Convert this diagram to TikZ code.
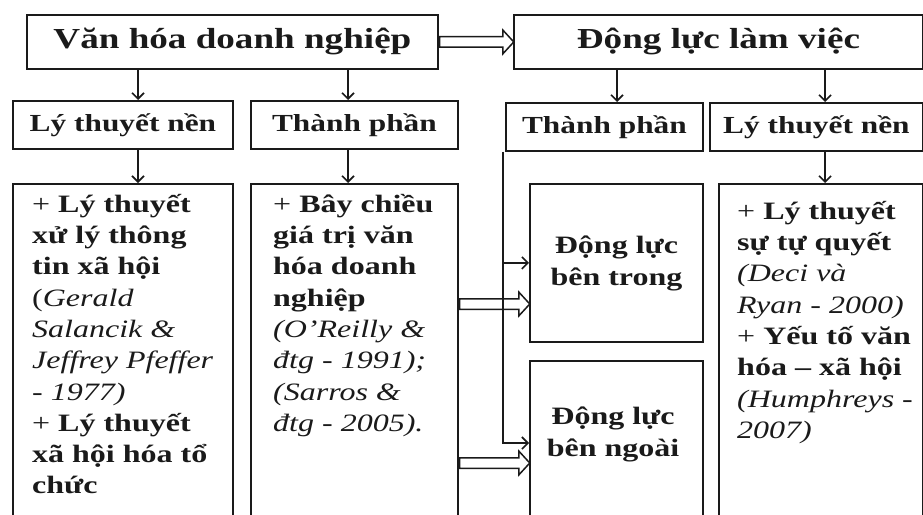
\documentclass[tikz,border=0pt]{standalone}
\usepackage{fontspec}
\setmainfont{Liberation Serif}[FakeStretch=1.28]
\usetikzlibrary{arrows.meta,shapes.arrows,calc}
\definecolor{ink}{HTML}{1A1A1A}
\begin{document}
\begin{tikzpicture}[x=1pt,y=-1pt,
  box/.style={draw=ink, line width=1.9pt, inner sep=0pt, anchor=north west, text=ink},
  ttl/.style={font=\fontsize{29}{34}\selectfont\bfseries},
  hdr/.style={font=\fontsize{24.5}{30}\selectfont\bfseries},
  mid/.style={font=\fontsize{25}{32}\selectfont\bfseries, align=center},
  body/.style={font=\fontsize{25}{31.3}\selectfont, align=left, anchor=north west, inner sep=0pt, text=ink},
  arr/.style={draw=ink, line width=1.6pt, -{Straight Barb[length=6pt,width=12pt]}},
  dbl/.style={single arrow, draw=ink, line width=1.5pt, inner xsep=0pt, inner ysep=4.5pt,
    single arrow head extend=6.5pt, single arrow tip angle=95, anchor=tail}
]
\useasboundingbox (0,0) rectangle (923,514);
\clip (0,0) rectangle (923,514);

% top boxes
\node[box, ttl, minimum width=411pt, minimum height=54pt] (vh) at (26,14) {Văn hóa doanh nghiệp};
\node[box, ttl, minimum width=409pt, minimum height=54pt] (dl) at (513,14) {Động lực làm việc};

% headers
\node[box, hdr, minimum width=220pt, minimum height=48pt] (lt1) at (12,100) {Lý thuyết nền};
\node[box, hdr, minimum width=207pt, minimum height=48pt] (tp1) at (250,100) {Thành phần};
\node[box, hdr, minimum width=197pt, minimum height=48pt] (tp2) at (505,102) {Thành phần};
\node[box, hdr, minimum width=213pt, minimum height=48pt] (lt2) at (709,102) {Lý thuyết nền};

% lower boxes
\node[box, minimum width=220pt, minimum height=350pt] (b1) at (12,183) {};
\node[box, minimum width=207pt, minimum height=350pt] (b2) at (250,183) {};
\node[box, mid, minimum width=173pt, minimum height=158pt] (bt) at (529,183) {Động lực\\bên trong};
\node[box, minimum width=173pt, minimum height=170pt] (bn) at (529,360) {};
\node[box, minimum width=204pt, minimum height=350pt] (b4) at (718,183) {};
\node[mid, text=ink, inner sep=0pt] (bnt) at (613,434) {Động lực\\bên ngoài};

% body texts
\node[body] (t1) at (32,187) {\rule{0pt}{25pt}\textbf{{\mdseries +} Lý thuyết}\\
\textbf{xử lý thông}\\
\textbf{tin xã hội}\\
(\textit{Gerald}\\
\textit{Salancik \&}\\
\textit{Jeffrey Pfeffer}\\
\textit{- 1977)}\\
\textbf{{\mdseries +} Lý thuyết}\\
\textbf{xã hội hóa tổ}\\
\textbf{chức}};

\node[body] (t2) at (273,187) {\rule{0pt}{25pt}\textbf{{\mdseries +} Bây chiều}\\
\textbf{giá trị văn}\\
\textbf{hóa doanh}\\
\textbf{nghiệp}\\
\textit{(O’Reilly \&}\\
\textit{đtg - 1991);}\\
\textit{(Sarros \&}\\
\textit{đtg - 2005).}};

\node[body] (t4) at (737,194) {\rule{0pt}{25pt}\textbf{{\mdseries +} Lý thuyết}\\
\textbf{sự tự quyết}\\
\textit{(Deci và}\\
\textit{Ryan - 2000)}\\
\textbf{{\mdseries +} Yếu tố văn}\\
\textbf{hóa – xã hội}\\
\textit{(Humphreys -}\\
\textit{2007)}};

% single arrows
\draw[arr] (138,0 |- vh.south) -- (138,0 |- lt1.north);
\draw[arr] (348,0 |- vh.south) -- (348,0 |- tp1.north);
\draw[arr] (138,0 |- lt1.south) -- (138,0 |- b1.north);
\draw[arr] (348,0 |- tp1.south) -- (348,0 |- b2.north);
\draw[arr] (617,0 |- dl.south) -- (617,0 |- tp2.north);
\draw[arr] (825,0 |- dl.south) -- (825,0 |- lt2.north);
\draw[arr] (825,0 |- lt2.south) -- (825,0 |- b4.north);
\draw[arr] (503,0 |- tp2.south) |- (bt.west);
\draw[arr] (503,0 |- tp2.south) |- (bn.west |- 0,443);

% double (hollow) arrows
\path let \p1=(vh.east), \p2=(dl.west) in node[dbl, minimum height={\x2-\x1}] (da1) at (\p1) {};
\path let \p1=(b2.east |- 0,304), \p2=(bt.west) in node[dbl, minimum height={\x2-\x1}] (da2) at (\p1) {};
\path let \p1=(b2.east |- 0,463), \p2=(bn.west) in node[dbl, minimum height={\x2-\x1}] (da3) at (\p1) {};
\end{tikzpicture}
\end{document}
